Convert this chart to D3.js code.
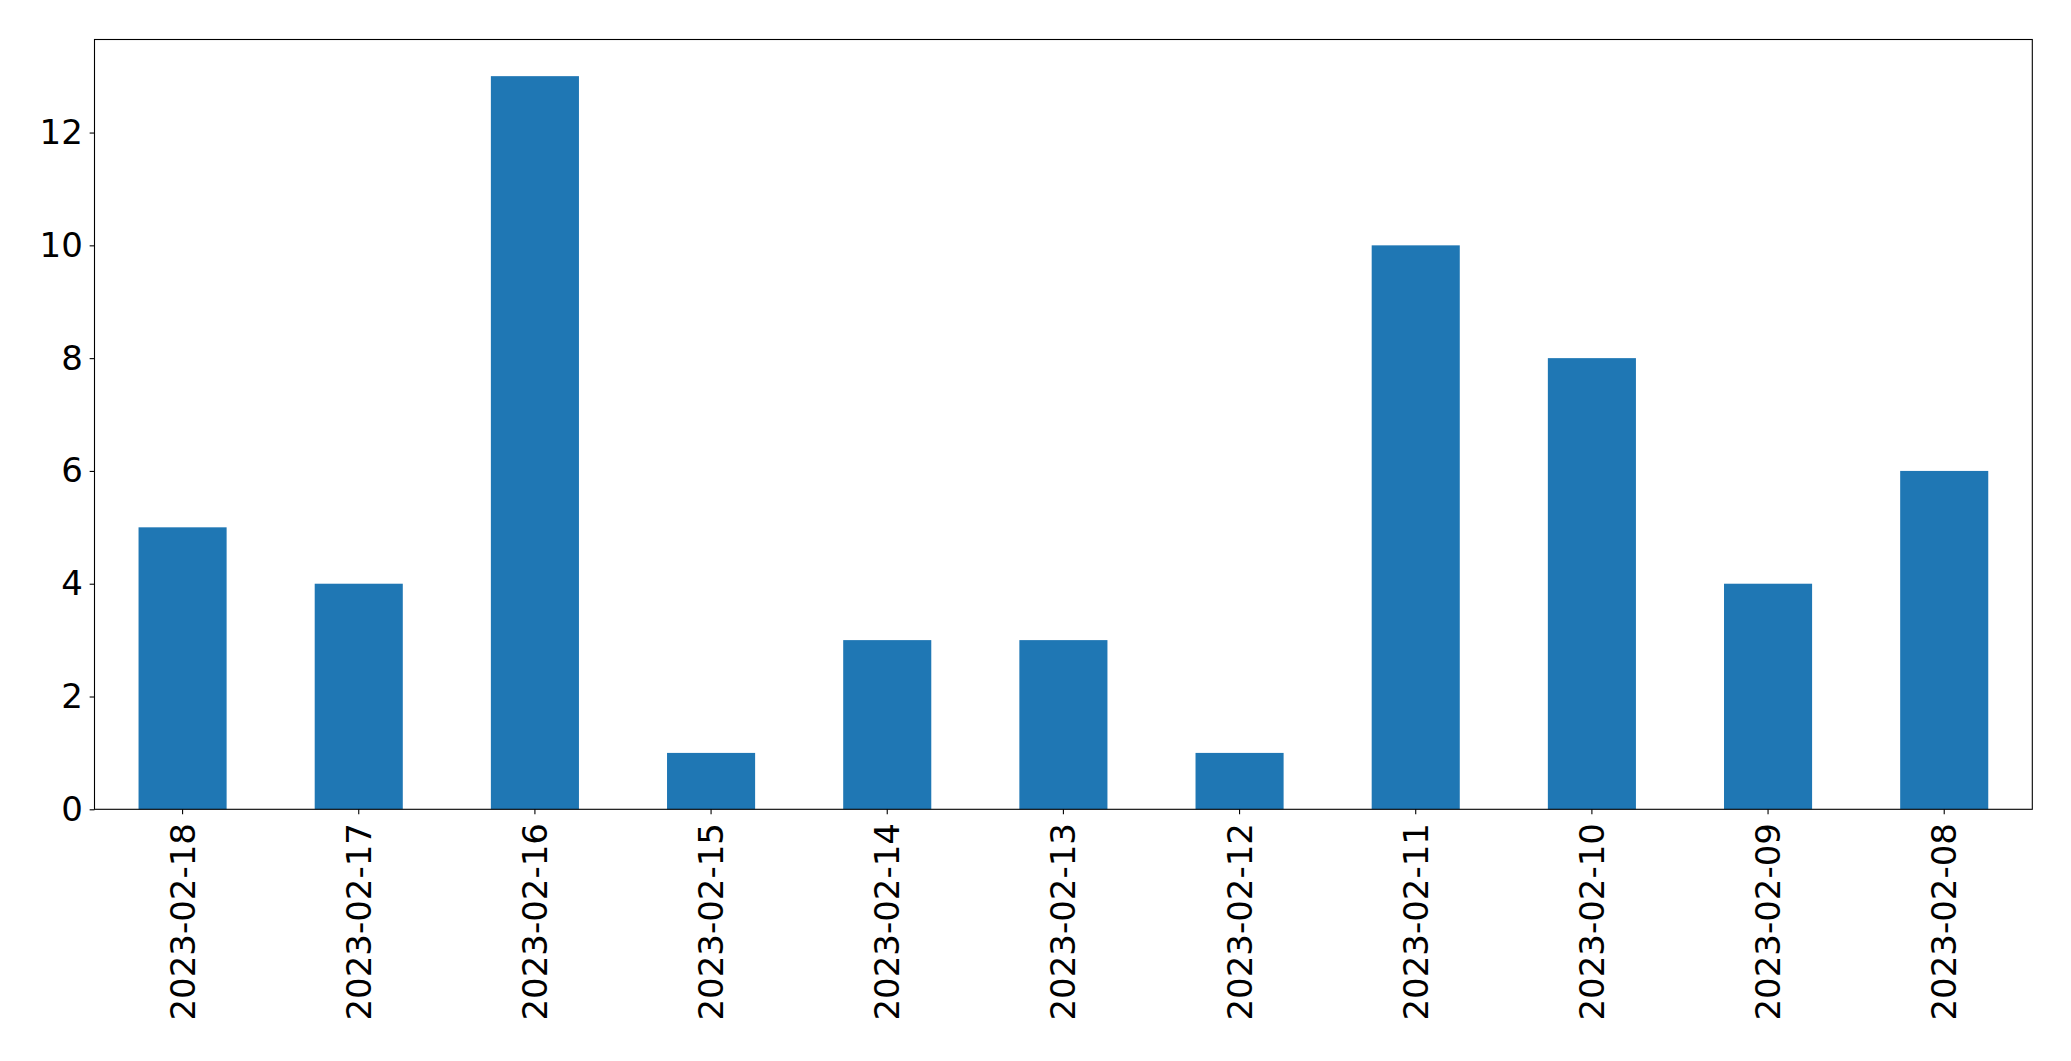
<!DOCTYPE html>
<html><head><meta charset="utf-8">
<script src="https://cdn.jsdelivr.net/npm/d3@7"></script>
<style>html,body{margin:0;padding:0;background:#fff;}</style>
</head><body>
<script>
const categories = ["2023-02-18","2023-02-17","2023-02-16","2023-02-15","2023-02-14","2023-02-13","2023-02-12","2023-02-11","2023-02-10","2023-02-09","2023-02-08"];
const values = [5,4,13,1,3,3,1,10,8,4,6];
const yTicks = [0,2,4,6,8,10,12];

const W = 2071, H = 1061;
const L = 94.5, R = 2032.3, T = 39.5, B = 809.3;
const svg = d3.select("body").append("svg").attr("width", W).attr("height", H);

const x = d3.scaleBand().domain(categories).range([L, R]).paddingInner(0.5).paddingOuter(0.25);
const y = d3.scaleLinear().domain([0, d3.max(values) * 1.05]).range([B, T]);

svg.append("g").selectAll("rect").data(values).join("rect")
  .attr("x", (d, i) => x(categories[i]))
  .attr("width", x.bandwidth())
  .attr("y", d => y(d))
  .attr("height", d => y(0) - y(d))
  .attr("fill", "#1f77b4");

const font = "'DejaVu Sans', sans-serif";
const fs = 34;
const tickLen = 4.86, pad = 4.86;

const yAxis = svg.append("g").attr("transform", `translate(${L},0)`)
  .call(d3.axisLeft(y).tickValues(yTicks).tickSize(tickLen).tickPadding(pad + 2).tickFormat(d3.format("d")));
yAxis.select(".domain").remove();
yAxis.selectAll("line").attr("stroke", "#000").attr("stroke-width", 1.1);
yAxis.selectAll("text").attr("font-family", font).attr("font-size", fs).attr("fill", "#000");

const xAxis = svg.append("g").attr("transform", `translate(0,${B})`)
  .call(d3.axisBottom(x).tickSize(tickLen).tickPadding(0));
xAxis.select(".domain").remove();
xAxis.selectAll("line").attr("stroke", "#000").attr("stroke-width", 1.1);
xAxis.selectAll("text")
  .attr("font-family", font).attr("font-size", fs).attr("fill", "#000")
  .attr("text-anchor", "end").attr("dy", null).attr("y", 0)
  .attr("transform", `translate(0,${tickLen + pad + 4}) rotate(-90)`)
  .attr("dominant-baseline", "central");

svg.append("rect").attr("x", L).attr("y", T).attr("width", R - L).attr("height", B - T)
  .attr("fill", "none").attr("stroke", "#000").attr("stroke-width", 1.1);
</script>
</body></html>
